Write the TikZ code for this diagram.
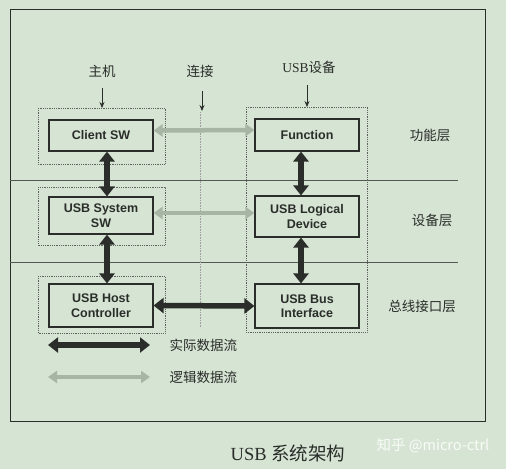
\documentclass[tikz,border=0pt]{standalone}
\usepackage{fontspec}
\setmainfont{Liberation Serif}
\setsansfont{Liberation Sans}
\newfontfamily\cjk{Noto Sans CJK SC}
\usetikzlibrary{arrows.meta}
\definecolor{paper}{HTML}{D6E5D3}
\definecolor{ink}{HTML}{2A2D2A}
\definecolor{logicgray}{HTML}{A7B5A5}
\begin{document}
\begin{tikzpicture}[x=1pt,y=-1pt,
    box/.style={draw=ink,line width=1.1pt,minimum width=104pt,inner sep=0pt,align=center,
      text=ink,font=\sffamily\bfseries\fontsize{12.5}{14.5}\selectfont},
    group/.style={draw=ink!75,densely dotted,line width=0.8pt},
    realflow/.style={{Triangle[width=15pt,length=10pt]}-{Triangle[width=15pt,length=10pt]},
      line width=5.5pt,draw=ink},
    logicflow/.style={{Triangle[width=12pt,length=9pt]}-{Triangle[width=12pt,length=9pt]},
      line width=4.5pt,draw=logicgray},
    tip/.style={-{Stealth[width=5pt,length=6pt]},line width=0.7pt,draw=ink},
    lbl/.style={text=ink,font=\cjk\fontsize{13.5}{15}\selectfont}]
  \fill[paper] (0,0) rectangle (506,469);
  \useasboundingbox (0,0) rectangle (506,469);
  % frame and layer lines
  \draw[ink,line width=0.9pt] (10,9) rectangle (485,421);
  \draw[ink!80,line width=0.7pt] (10,180) -- (458,180);
  \draw[ink!80,line width=0.7pt] (10,262) -- (458,262);
  \draw[ink!45,densely dotted,line width=0.6pt] (200,112) -- (200,327);
  % groups
  \draw[group] (38,108) rectangle (165,164);
  \draw[group] (38,187) rectangle (165,245);
  \draw[group] (38,276) rectangle (165,333);
  \draw[group] (246,107) rectangle (367,332);
  % boxes
  \node[box,minimum height=31pt] (client) at (101,135.5) {Client SW};
  \node[box,minimum height=37pt] (syssw) at (101,215.5) {USB System\\SW};
  \node[box,minimum height=43pt] (hostc) at (101,305.5) {USB Host\\Controller};
  \node[box,minimum height=32pt] (func) at (307,135) {Function};
  \node[box,minimum height=41pt] (logdev) at (307,216.5) {USB Logical\\Device};
  \node[box,minimum height=44pt] (busif) at (307,306) {USB Bus\\Interface};
  % headings
  \node[lbl] (host) at (102,71) {主机};
  \node[lbl] (link) at (200,71) {连接};
  \node[lbl] (dev) at (309,67) {{\rmfamily USB}设备};
  \coordinate (hostin) at (102,108);
  \coordinate (linkin) at (202,111);
  \coordinate (devin) at (307,107);
  \draw[tip,shorten <=7pt] (host.south) -- (hostin);
  \draw[tip] ([xshift=2pt,yshift=-10pt]link.south) -- (linkin);
  \draw[tip,shorten <=8pt] ([xshift=-2pt]dev.south) -- (devin);
  % layers
  \node[lbl] (funclayer) at (430,135) {功能层};
  \node[lbl] (devlayer) at (432,220) {设备层};
  \node[lbl] (buslayer) at (422,306) {总线接口层};
  % flows
  \begin{scope}
    \draw[realflow] ([xshift=6pt]client.south) -- ([xshift=6pt]syssw.north);
    \draw[realflow] ([xshift=6pt]syssw.south) -- ([xshift=6pt]hostc.north);
    \draw[realflow] ([xshift=-6pt]func.south) -- ([xshift=-6pt]logdev.north);
    \draw[realflow] ([xshift=-6pt]logdev.south) -- ([xshift=-6pt]busif.north);
    \draw[realflow] (hostc.east) -- (busif.west);
    \draw[logicflow] ([yshift=5pt]client.east) -- ([yshift=5pt]func.west);
    \draw[logicflow] ([yshift=2.5pt]syssw.east) -- ([yshift=3.5pt]logdev.west);
  \end{scope}
  % legend
  \coordinate (realA) at (48,345);
  \coordinate (realB) at (150,345);
  \coordinate (logicA) at (48,377);
  \coordinate (logicB) at (150,377);
  \draw[realflow] (realA) -- (realB);
  \draw[logicflow] (logicA) -- (logicB);
  \node[lbl,anchor=west] (realtext) at (166,345) {实际数据流};
  \node[lbl,anchor=west] (logictext) at (166,377) {逻辑数据流};
  % caption
  \node[text=ink,font=\fontsize{18.5}{20}\selectfont] (caption) at (288,453) {USB {\cjk 系统架构}};
  \node[text=white,opacity=0.85,font=\cjk\fontsize{14.5}{16}\selectfont] (mark) at (433,446) {知乎 @micro-ctrl};
\end{tikzpicture}
\end{document}
